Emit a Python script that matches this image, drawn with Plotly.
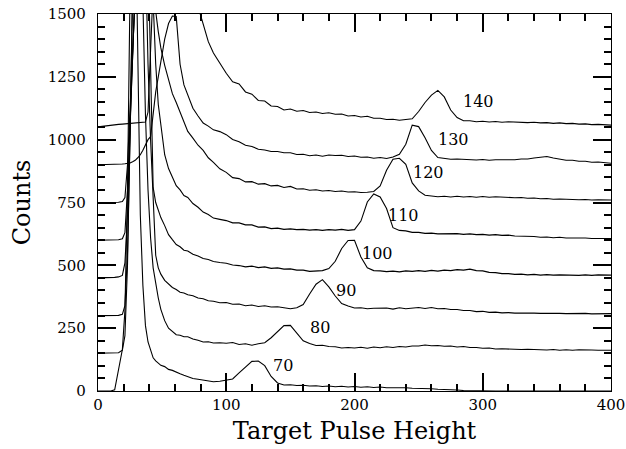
import plotly.graph_objects as go

# Pulse-height bins (shared by all spectra)
x_lo = [0, 5, 10, 13, 16, 19, 21, 23, 25, 27, 29, 31, 33, 35, 37, 39, 41, 43, 45, 47,
        49, 52, 55, 58, 61, 64, 67, 70, 74, 78, 82, 86, 90, 95]
x_hi = list(range(100, 401, 5))

energies = [70, 80, 90, 100, 110, 120, 130, 140]
offsets = [0, 150, 300, 450, 600, 750, 900, 1050]

# Net counts (low part: x_lo, high part: x_hi)
n70_lo = [0, 0, 0, 5, 80, 165, 320, 800, 1600, 2200, 2000, 1300, 700, 420, 260, 195, 160, 132, 120, 110,
          102, 97, 86, 82, 74, 69, 63, 58, 50, 47, 43, 41, 37, 39]
n70_hi = [42, 48, 72, 95, 118, 119, 101, 58, 32, 24,
          25, 22, 23, 20, 21, 18, 20, 17, 19, 16,
          18, 15, 17, 14, 16, 13, 14, 12, 13, 11,
          11, 9, 9, 7, 7, 5, 4, 2, 1, 0,
          0, 0, 0, 0, 0, 0, 0, 0, 0, 0,
          0, 0, 0, 0, 0, 0, 0, 0, 0, 0, 0]

n80_lo = [0, 0, 0, 0, 2, 12, 70, 350, 900, 1500, 2000, 2200, 1900, 1400, 950, 650, 460, 340, 270, 220,
          175, 130, 100, 88, 74, 72, 66, 66, 57, 52, 45, 46, 41, 42]
n80_hi = [40, 43, 35, 38, 32, 38, 42, 62, 86, 110,
          111, 82, 50, 39, 31, 32, 27, 26, 21, 23,
          21, 24, 20, 25, 22, 26, 23, 27, 25, 29,
          29, 33, 30, 31, 28, 29, 25, 27, 23, 23,
          20, 21, 17, 18, 16, 17, 15, 16, 14, 15,
          13, 15, 12, 14, 12, 14, 12, 13, 12, 13, 12]

n90_lo = [0, 0, 0, 0, 1, 5, 40, 250, 700, 1300, 1900, 2200, 2200, 1900, 1400, 1000, 700, 450, 240, 190,
          165, 140, 125, 112, 104, 93, 90, 83, 79, 70, 67, 59, 57, 51]
n90_hi = [52, 45, 46, 39, 42, 36, 39, 34, 35, 30,
          27, 31, 44, 86, 125, 143, 114, 78, 48, 38,
          30, 31, 27, 29, 28, 30, 26, 31, 27, 30,
          32, 28, 32, 27, 28, 24, 24, 20, 20, 16,
          17, 13, 14, 11, 12, 10, 11, 9, 10, 9,
          10, 8, 9, 8, 9, 8, 9, 7, 8, 8, 8]

n100_lo = [0, 0, 1, 2, 4, 10, 60, 250, 600, 1000, 1400, 1800, 2000, 2000, 1800, 1350, 800, 360, 300, 265,
           240, 208, 172, 152, 133, 124, 110, 107, 94, 87, 77, 73, 65, 61]
n100_hi = [58, 51, 49, 44, 47, 41, 44, 38, 40, 35,
           36, 31, 31, 26, 28, 29, 37, 66, 117, 149,
           150, 83, 40, 29, 28, 25, 27, 24, 28, 26,
           29, 26, 30, 27, 31, 29, 33, 31, 35, 29,
           28, 22, 21, 17, 17, 14, 15, 12, 14, 11,
           13, 11, 12, 11, 12, 10, 12, 10, 12, 11, 11]

n110_lo = [0, 0, 0, 1, 2, 6, 30, 200, 500, 850, 1200, 1500, 1700, 1800, 1750, 1600, 1300, 950, 700, 540,
           460, 340, 285, 248, 217, 200, 178, 170, 146, 131, 112, 102, 88, 83]
n110_hi = [78, 69, 69, 61, 61, 52, 53, 46, 48, 43,
           45, 42, 43, 40, 42, 39, 42, 40, 43, 39,
           42, 76, 152, 184, 172, 126, 50, 39, 37, 31,
           31, 27, 28, 25, 26, 24, 26, 23, 25, 22,
           23, 20, 22, 19, 20, 17, 17, 14, 15, 12,
           13, 10, 12, 9, 10, 8, 9, 7, 8, 7, 7]

n120_lo = [0, 0, 0, 0, 1, 4, 20, 150, 420, 750, 1050, 1300, 1450, 1500, 1450, 1300, 1100, 900, 760, 680,
           615, 546, 493, 433, 398, 357, 320, 283, 256, 228, 207, 178, 160, 134]
n120_hi = [120, 99, 95, 82, 83, 73, 75, 66, 68, 60,
           64, 54, 55, 49, 51, 46, 48, 44, 46, 42,
           43, 40, 41, 44, 66, 128, 172, 176, 152, 78,
           46, 29, 26, 23, 25, 22, 25, 22, 24, 21,
           24, 21, 23, 21, 22, 19, 20, 17, 18, 15,
           16, 13, 14, 12, 13, 11, 12, 10, 11, 10, 10]

n130_lo = [0, 0, 1, 1, 2, 3, 4, 5, 7, 12, 18, 28, 40, 58, 80, 100, 112, 200, 290, 350,
           415, 500, 562, 592, 590, 400, 318, 278, 225, 194, 166, 154, 139, 132]
n130_hi = [120, 101, 92, 78, 73, 62, 59, 53, 53, 48,
           48, 41, 42, 36, 39, 34, 39, 37, 38, 33,
           35, 30, 31, 26, 29, 25, 31, 42, 82, 158,
           152, 108, 57, 29, 26, 22, 23, 21, 22, 19,
           21, 18, 20, 19, 21, 20, 23, 23, 27, 29,
           33, 27, 23, 18, 18, 14, 14, 10, 11, 7, 6]

n140_lo = [1, 5, 8, 10, 11, 12, 13, 14, 14, 14, 15, 15, 16, 18, 20, 60, 400, 650, 800, 850,
           880, 900, 900, 880, 850, 800, 720, 650, 560, 480, 410, 340, 295, 255]
n140_hi = [214, 180, 172, 140, 131, 106, 104, 84, 82, 68,
           72, 63, 66, 58, 60, 54, 57, 51, 52, 44,
           46, 40, 43, 35, 35, 30, 31, 27, 31, 33,
           62, 98, 127, 146, 120, 68, 38, 25, 25, 21,
           23, 20, 22, 19, 21, 19, 20, 18, 19, 17,
           18, 15, 17, 14, 15, 12, 13, 10, 11, 8, 8]

spectra = [n70_lo + n70_hi, n80_lo + n80_hi, n90_lo + n90_hi, n100_lo + n100_hi,
           n110_lo + n110_hi, n120_lo + n120_hi, n130_lo + n130_hi, n140_lo + n140_hi]

# Curve label anchors (data coordinates)
label_x = [144, 173, 193, 218, 238, 258, 277, 297]
label_y = [100, 251, 400, 549, 700, 871, 999, 1152]

# Axis ranges and tick spacing
x_range = [0, 400]
y_range = [0, 1500]
x_major, x_minor = 100, 20
y_major, y_minor = 250, 50

W, H = 626, 449
ML, MR, MT, MB = 98, 15, 14, 58

x_all = x_lo + x_hi

fig = go.Figure()
for net, off in zip(spectra, offsets):
    fig.add_trace(go.Scatter(
        x=x_all, y=[v + off for v in net], mode="lines",
        line=dict(color="black", width=1.1),
        showlegend=False, hoverinfo="skip"))

for e, lx, ly in zip(energies, label_x, label_y):
    fig.add_annotation(x=lx, y=ly, text=str(e), showarrow=False,
                       font=dict(family="DejaVu Serif", size=16, color="black"),
                       xanchor="center", yanchor="middle")

fig.update_layout(
    width=W, height=H,
    margin=dict(l=ML, r=MR, t=MT, b=MB),
    paper_bgcolor="white", plot_bgcolor="white",
    font=dict(family="DejaVu Serif", color="black"),
    showlegend=False,
)

fig.update_xaxes(
    range=x_range, tick0=0, dtick=x_major,
    ticks="inside", ticklen=18, tickwidth=2, tickcolor="black",
    minor=dict(ticks="inside", ticklen=7, dtick=x_minor, tickwidth=2, tickcolor="black"),
    showline=True, linecolor="black", linewidth=1.2, mirror="ticks",
    showgrid=False, zeroline=False, automargin=False,
    tickfont=dict(family="DejaVu Serif", size=15, color="black"),
    title=dict(text="Target Pulse Height", font=dict(family="DejaVu Serif", size=24, color="black"), standoff=9),
)
fig.update_yaxes(
    range=y_range, tick0=0, dtick=y_major,
    ticks="inside", ticklen=18, tickwidth=2, tickcolor="black",
    minor=dict(ticks="inside", ticklen=7, dtick=y_minor, tickwidth=2, tickcolor="black"),
    showline=True, linecolor="black", linewidth=1.2, mirror="ticks",
    showgrid=False, zeroline=False, automargin=False,
    tickfont=dict(family="DejaVu Serif", size=15, color="black"),
    ticklabelstandoff=8,
    title=dict(text="Counts", font=dict(family="DejaVu Serif", size=24, color="black"), standoff=10),
)

fig.write_html("out.html")
